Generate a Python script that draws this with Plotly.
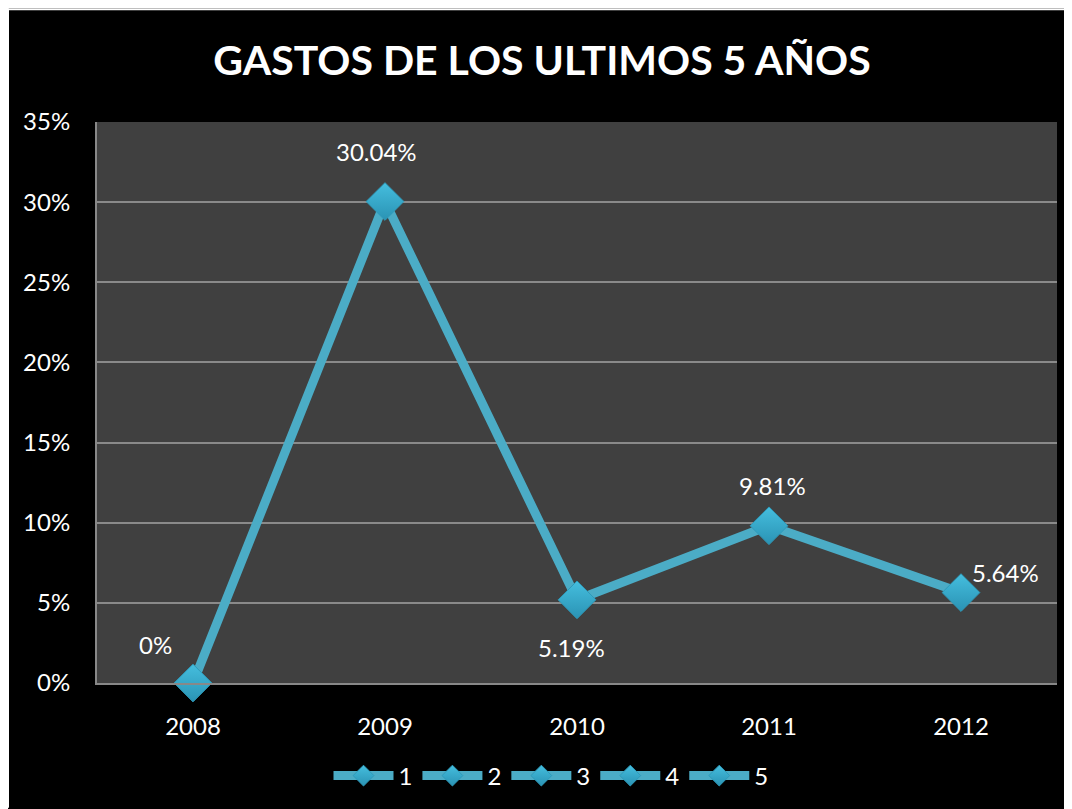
import plotly.graph_objects as go

years = ["2008", "2009", "2010", "2011", "2012"]
values = [0.0, 0.3004, 0.0519, 0.0981, 0.0564]
labels = ["0%", "30.04%", "5.19%", "9.81%", "5.64%"]
legend_names = ["1", "2", "3", "4", "5"]
label_xshift = [-38, -9, -6, 3, 44]
label_yshift = [39, 50, -48, 40, 20]

LINE = "#4BACC6"
MARK = "#45BEDE"
FONT = "Lato"

W, H = 1064, 801
L, R, T, B = 89, 15, 114, 125
pw, ph = W - L - R, H - T - B
xpos = list(range(len(years)))

fig = go.Figure()
fig.add_trace(go.Scatter(x=xpos, y=values, mode="lines",
                         line=dict(color=LINE, width=9), showlegend=False,
                         hoverinfo="skip", cliponaxis=False))
for i, n in enumerate(legend_names):
    fig.add_trace(go.Scatter(
        x=[xpos[i]], y=[values[i]], mode="lines+markers", name=n,
        line=dict(color=LINE, width=9), cliponaxis=False,
        marker=dict(symbol="diamond", size=29, color=MARK,
                    gradient=dict(type="vertical", color="#2A93B4"),
                    line=dict(color="#2E9ABA", width=1))))

for i in range(len(years)):
    fig.add_annotation(x=xpos[i], y=values[i], xref="x", yref="y",
                       text=labels[i], showarrow=False,
                       xshift=label_xshift[i], yshift=label_yshift[i],
                       font=dict(family=FONT, size=24, color="white"))

def px_x(p):
    return (p - L) / pw

def px_y(p):
    return (H - B - p) / ph

fig.add_shape(type="rect", xref="paper", yref="paper",
              x0=px_x(0), x1=px_x(W), y0=px_y(0), y1=px_y(2),
              fillcolor="white", line=dict(width=0), layer="below")
fig.add_shape(type="rect", xref="paper", yref="paper",
              x0=px_x(0), x1=px_x(1), y0=px_y(0), y1=px_y(H),
              fillcolor="white", line=dict(width=0), layer="below")

fig.update_layout(
    width=W, height=H,
    margin=dict(l=L, r=R, t=T, b=B),
    paper_bgcolor="black", plot_bgcolor="#404040",
    title=dict(text="<b>GASTOS DE LOS ULTIMOS 5 AÑOS</b>", x=534 / W, xanchor="center",
               y=1 - 53 / H, yanchor="middle",
               font=dict(family=FONT, size=41, color="white")),
    showlegend=True,
    legend=dict(orientation="h", x=px_x(543), xanchor="center", y=px_y(768), yanchor="middle",
                font=dict(family=FONT, size=24, color="white"),
                itemwidth=60, bgcolor="rgba(0,0,0,0)", tracegroupgap=0),
    font=dict(family=FONT, color="white"),
)
fig.update_xaxes(range=[-0.5, 4.5], tickvals=xpos, ticktext=years, showgrid=False,
                 zeroline=False,
                 showline=True, linecolor="#888888", linewidth=2,
                 ticks="outside", ticklen=21, tickcolor="rgba(0,0,0,0)",
                 tickfont=dict(family=FONT, size=24, color="white"))
fig.update_yaxes(range=[0, 0.35], dtick=0.05, tickformat=".0%",
                 showgrid=True, gridcolor="#8a8a8a", gridwidth=2,
                 showline=True, linecolor="#888888", linewidth=2, zeroline=False,
                 ticks="outside", ticklen=20, tickcolor="rgba(0,0,0,0)",
                 tickfont=dict(family=FONT, size=24, color="white"))

fig.write_html("out.html", post_script="document.body.style.overflow='hidden';")
